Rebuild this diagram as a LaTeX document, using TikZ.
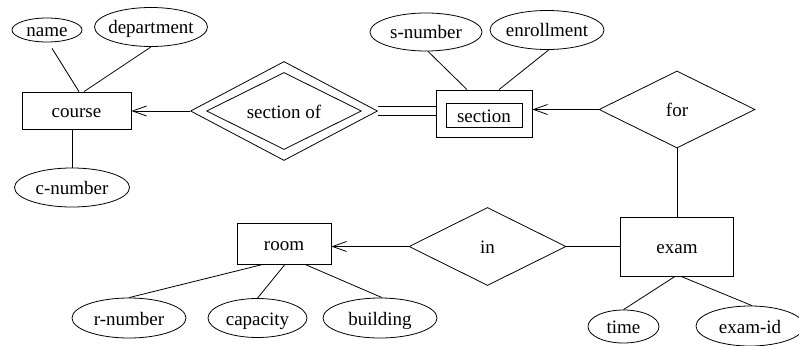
\documentclass[tikz,border=0pt]{standalone}
\usepackage{fontspec}
\setmainfont{Liberation Serif}
\usetikzlibrary{shapes.geometric,arrows.meta,calc}
\newcommand\zw[1]{\makebox[0pt]{#1}}
\begin{document}
\begin{tikzpicture}[x=1pt,y=-1pt,
  every node/.style={font=\fontsize{19}{23}\selectfont, inner sep=0pt, text height=14pt, text depth=0pt},
  attr/.style={draw, ellipse, line width=0.8pt},
  entity/.style={draw, rectangle, line width=0.8pt},
  rel/.style={draw, diamond, aspect=2, line width=0.8pt},
  conn/.style={line width=0.8pt},
  arr/.style={line width=0.8pt, -{Straight Barb[length=14pt,width=10pt]}}]
\useasboundingbox (0,0) rectangle (799,345);
\clip (0,0) rectangle (799,345);
% attributes
\node[attr, minimum width=70pt, minimum height=24pt] (name) at (47,30) {\zw{name}};
\node[attr, minimum width=113pt, minimum height=39pt] (dept) at (151,27) {\zw{department}};
\node[attr, minimum width=115pt, minimum height=39pt] (cnum) at (72,187.5) {\zw{c-number}};
\node[attr, minimum width=112pt, minimum height=38pt] (snum) at (426,32) {\zw{s-number}};
\node[attr, minimum width=114pt, minimum height=39pt] (enroll) at (547,30) {\zw{enrollment}};
\node[attr, minimum width=114pt, minimum height=40pt] (rnum) at (129,318) {\zw{r-number}};
\node[attr, minimum width=99pt, minimum height=39pt] (cap) at (257.5,318) {\zw{capacity}};
\node[attr, minimum width=114pt, minimum height=40pt] (build) at (380,318) {\zw{building}};
\node[attr, minimum width=71pt, minimum height=33pt] (time) at (623.5,326.5) {\zw{time}};
\node[attr, minimum width=108pt, minimum height=40pt] (examid) at (750,326) {\zw{exam-id}};
% entities
\node[entity, minimum width=109pt, minimum height=37pt] (course) at (76.5,110.5) {course};
\node[entity, minimum width=96pt, minimum height=47pt] (section) at (484,113.5) {};
\node[entity, minimum width=76pt, minimum height=24pt] (sectionin) at (484,115) {section};
\node[entity, minimum width=94pt, minimum height=41pt] (room) at (284,243.5) {room};
\node[entity, minimum width=113pt, minimum height=59pt] (exam) at (677,246.5) {exam};
% relationships
\node[rel, minimum width=187pt, minimum height=99pt] (secof) at (284,111) {};
\node[rel, minimum width=155pt, minimum height=77pt] (secofin) at (284,111) {section of};
\node[rel, minimum width=156pt, minimum height=77pt] (for) at (677,109.5) {for};
\node[rel, minimum width=157pt, minimum height=78pt] (in) at (487.5,246.5) {in};
% connectors
\draw[conn] ($(name.south)+(5,6)$) -- ($(course.north)+(2.5,0)$);
\draw[conn] (dept.south) -- ($(course.north)+(7.5,0)$);
\draw[conn] (course.south -| cnum.north) -- (cnum.north);
\draw[arr] (secof.west) -- (secof.west -| course.east);
\draw[conn, double, double distance=8pt] (secof.east) -- (secof.east -| section.west);
\draw[conn] ($(snum.south)+(2,0)$) -- ($(section.north)+(-17,0)$);
\draw[conn] (enroll.-85) -- ($(section.north)+(15,0)$);
\draw[arr] (for.west) -- (for.west -| section.east);
\draw[conn] (for.south) -- (for.south |- exam.north);
\draw[arr] (in.west) -- (in.west -| room.east);
\draw[conn] (in.east) -- (in.east -| exam.west);
\draw[conn] (rnum.north) -- ($(room.south)+(-21,0)$);
\draw[conn] (cap.north) -- ($(room.south)+(1,0)$);
\draw[conn] ($(build.north)+(2,0)$) -- ($(room.south)+(21,0)$);
\draw[conn] (time.north) -- ($(exam.south)+(-2,0)$);
\draw[conn] ($(examid.north)+(2,0)$) -- ($(exam.south)+(4,0)$);
\end{tikzpicture}
\end{document}
